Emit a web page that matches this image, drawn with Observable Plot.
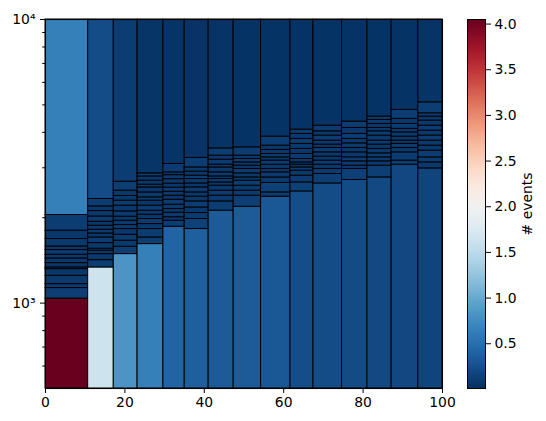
<!DOCTYPE html>
<html>
<head>
<meta charset="utf-8">
<script src="https://cdn.jsdelivr.net/npm/d3@7"></script>
<script src="https://cdn.jsdelivr.net/npm/@observablehq/plot@0.6"></script>
<style>
  html, body { margin: 0; padding: 0; background: #fff; }
  #wrap { position: relative; width: 546px; height: 421px; font-family: "DejaVu Sans", sans-serif; }
  #wrap svg { position: absolute; left: 0; top: 0; }
</style>
</head>
<body>
<div id="wrap"></div>
<script>
// ---- data ----
const xEdges = [0, 10.75, 17.2, 23.2, 29.7, 35.07, 41.1, 47.4, 54.3, 61.7, 67.5, 74.7, 81.1, 87.2, 93.9, 100];

const yEdgesByColumn = [
  [500, 1038, 1130, 1167, 1248, 1318, 1336, 1384, 1437, 1481, 1539, 1584, 1683, 1800, 2045, 10000],
  [500, 1336, 1418, 1489, 1530, 1555, 1628, 1704, 1761, 1814, 1875, 1936, 2021, 2112, 2193, 2329, 10000],
  [500, 1489, 1580, 1660, 1742, 1825, 1885, 1952, 2017, 2106, 2206, 2297, 2387, 2491, 2680, 10000],
  [500, 1615, 1704, 1825, 1900, 1980, 2050, 2118, 2206, 2297, 2360, 2457, 2559, 2616, 2702, 2798, 2868, 10000],
  [500, 1859, 1952, 2008, 2083, 2147, 2223, 2315, 2392, 2471, 2553, 2637, 2735, 2826, 2891, 3095, 10000],
  [500, 1825, 1980, 2078, 2175, 2284, 2373, 2457, 2559, 2643, 2739, 2814, 2908, 3010, 3250, 10000],
  [500, 2118, 2284, 2392, 2491, 2594, 2665, 2739, 2798, 2891, 3010, 3077, 3204, 3311, 3513, 10000],
  [500, 2187, 2392, 2491, 2594, 2702, 2775, 2868, 2972, 3052, 3135, 3223, 3311, 3542, 10000],
  [500, 2373, 2457, 2652, 2775, 2891, 2972, 3077, 3180, 3266, 3357, 3469, 3592, 3864, 10000],
  [500, 2477, 2665, 2814, 2931, 3010, 3077, 3135, 3223, 3357, 3496, 3641, 3792, 3950, 4090, 10000],
  [500, 2643, 2853, 2972, 3077, 3180, 3285, 3401, 3525, 3621, 3740, 3896, 4034, 4224, 10000],
  [500, 2718, 2972, 3052, 3161, 3266, 3401, 3525, 3659, 3792, 3950, 4147, 4365, 10000],
  [500, 2775, 3052, 3161, 3266, 3374, 3496, 3621, 3740, 3896, 4034, 4147, 4283, 4426, 4546, 10000],
  [500, 3077, 3180, 3401, 3525, 3641, 3740, 3864, 4001, 4115, 4283, 4462, 4799, 10000],
  [500, 2986, 3135, 3266, 3449, 3592, 3740, 3896, 4057, 4224, 4401, 4546, 4670, 5105, 10000]
];

const countsByColumn = [
  [4.05, 0.12, 0.09, 0.08, 0.07, 0.1, 0.06, 0.08, 0.07, 0.09, 0.07, 0.08, 0.07, 0.1, 0.65],
  [1.63, 0.1, 0.08, 0.09, 0.07, 0.08, 0.1, 0.07, 0.09, 0.08, 0.07, 0.09, 0.08, 0.07, 0.1, 0.22],
  [0.82, 0.11, 0.08, 0.09, 0.07, 0.1, 0.08, 0.07, 0.09, 0.08, 0.1, 0.07, 0.08, 0.11, 0.1],
  [0.65, 0.12, 0.1, 0.08, 0.09, 0.07, 0.08, 0.1, 0.07, 0.09, 0.08, 0.07, 0.09, 0.08, 0.07, 0.1, 0.05],
  [0.41, 0.1, 0.08, 0.09, 0.07, 0.08, 0.09, 0.07, 0.08, 0.1, 0.07, 0.08, 0.09, 0.07, 0.09, 0.04],
  [0.37, 0.14, 0.09, 0.08, 0.1, 0.07, 0.08, 0.09, 0.07, 0.08, 0.1, 0.07, 0.08, 0.1, 0.035],
  [0.33, 0.1, 0.08, 0.09, 0.07, 0.08, 0.1, 0.07, 0.09, 0.08, 0.07, 0.09, 0.08, 0.1, 0.035],
  [0.33, 0.12, 0.09, 0.08, 0.1, 0.07, 0.08, 0.09, 0.07, 0.08, 0.1, 0.08, 0.1, 0.03],
  [0.31, 0.1, 0.13, 0.08, 0.09, 0.07, 0.08, 0.1, 0.07, 0.09, 0.08, 0.07, 0.1, 0.03],
  [0.23, 0.13, 0.09, 0.08, 0.1, 0.07, 0.06, 0.08, 0.09, 0.07, 0.08, 0.1, 0.08, 0.09, 0.03],
  [0.22, 0.12, 0.09, 0.08, 0.1, 0.07, 0.08, 0.09, 0.07, 0.08, 0.1, 0.08, 0.09, 0.03],
  [0.21, 0.13, 0.08, 0.09, 0.1, 0.07, 0.08, 0.09, 0.08, 0.1, 0.08, 0.1, 0.03],
  [0.2, 0.12, 0.09, 0.08, 0.1, 0.08, 0.07, 0.09, 0.08, 0.1, 0.07, 0.08, 0.09, 0.1, 0.03],
  [0.19, 0.13, 0.09, 0.08, 0.1, 0.07, 0.08, 0.09, 0.08, 0.1, 0.08, 0.11, 0.03],
  [0.16, 0.08, 0.09, 0.1, 0.07, 0.08, 0.09, 0.08, 0.1, 0.08, 0.07, 0.09, 0.11, 0.04]
];

const xTicks = [0, 20, 40, 60, 80, 100];
const yMajorTicks = [1000, 10000];
const yMajorLabels = ["10³", "10⁴"];
const yMinorTicks = [600, 700, 800, 900, 2000, 3000, 4000, 5000, 6000, 7000, 8000, 9000];
const colorDomain = [0.01, 4.05];
const colorTicks = [0.5, 1.0, 1.5, 2.0, 2.5, 3.0, 3.5, 4.0];
const colorLabel = "# events";

// ---- build cells ----
const cells = [];
yEdgesByColumn.forEach((edges, i) => {
  const counts = countsByColumn[i];
  for (let j = 0; j < edges.length - 1; j++) {
    cells.push({x1: xEdges[i], x2: xEdges[i + 1], y1: edges[j], y2: edges[j + 1], v: counts[j]});
  }
});

const W = 546, H = 421;
const mTop = 19, mBottom = 33, mLeft = 45, mRight = 104;
const font = "DejaVu Sans";
const colorSpec = {type: "linear", scheme: "RdBu", reverse: true, domain: colorDomain, clamp: true};

const main = Plot.plot({
  width: W, height: H,
  marginTop: mTop, marginBottom: mBottom, marginLeft: mLeft, marginRight: mRight,
  style: {fontFamily: font, fontSize: "13.9px", background: "transparent", color: "black"},
  x: {domain: [0, 100]},
  y: {type: "log", domain: [500, 10000]},
  color: colorSpec,
  marks: [
    Plot.rect(cells, {x1: "x1", x2: "x2", y1: "y1", y2: "y2", fill: "v", stroke: "black", strokeWidth: 1}),
    Plot.frame({stroke: "black", strokeWidth: 1.1}),
    Plot.axisX({ticks: xTicks, tickSize: 5, tickPadding: 4, tickFormat: d => String(d), label: null, fontSize: 13.9}),
    Plot.axisY({ticks: yMajorTicks, tickSize: 5, tickPadding: 5, tickFormat: d => yMajorLabels[yMajorTicks.indexOf(d)], label: null, fontSize: 13.9}),
    Plot.axisY({ticks: yMinorTicks, tickSize: 2.8, tickFormat: () => "", label: null})
  ]
});

const rampN = 200;
const rampStep = (colorDomain[1] - colorDomain[0]) / rampN;
const ramp = d3.range(rampN).map(i => {
  const a = colorDomain[0] + rampStep * i;
  const b = Math.min(colorDomain[1], a + rampStep * 1.6);
  return {a, b, m: a + rampStep / 2};
});

const cbar = Plot.plot({
  width: W, height: H,
  marginTop: mTop, marginBottom: mBottom, marginLeft: 467, marginRight: W - 485,
  style: {fontFamily: font, fontSize: "13.9px", background: "transparent", color: "black"},
  x: {domain: [0, 1], axis: null},
  y: {domain: colorDomain},
  color: colorSpec,
  marks: [
    Plot.rect(ramp, {x1: 0, x2: 1, y1: "a", y2: "b", fill: "m", shapeRendering: "crispEdges"}),
    Plot.frame({stroke: "black", strokeWidth: 1}),
    Plot.axisY({anchor: "right", ticks: colorTicks, tickSize: 5, tickPadding: 4, tickFormat: d3.format(".1f"),
      label: colorLabel, labelAnchor: "center", labelArrow: "none", labelOffset: 46, fontSize: 13.9})
  ]
});

const wrap = document.getElementById("wrap");
wrap.appendChild(main);
wrap.appendChild(cbar);
</script>
</body>
</html>
